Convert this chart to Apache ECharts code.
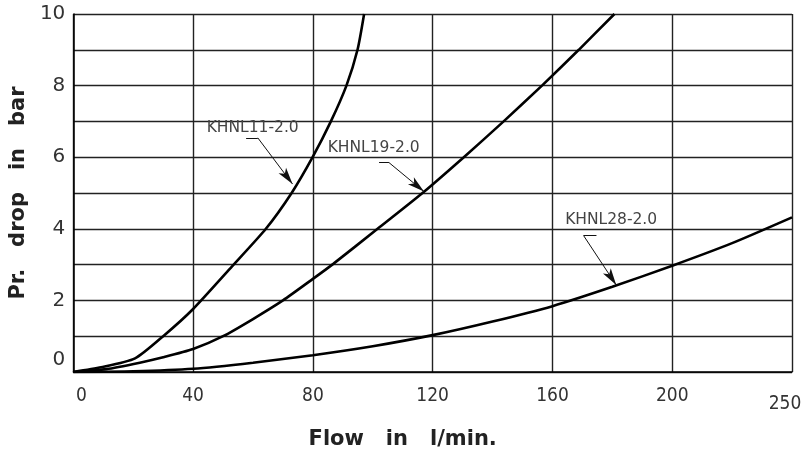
<!DOCTYPE html>
<html>
<head>
<meta charset="utf-8">
<script src="https://cdn.jsdelivr.net/npm/echarts@6/dist/echarts.min.js"></script>
<style>html,body{margin:0;padding:0;background:#fff}#c{width:805px;height:455px}</style>
</head>
<body>
<div id="c"></div>
<script>
// ---- data (flow in l/min, pressure drop in bar) ----
const xTickValues = [0, 40, 80, 120, 160, 200, 240];
const xTickLabels = ['0', '40', '80', '120', '160', '200', '250'];
const seriesNames = ['KHNL11-2.0', 'KHNL19-2.0', 'KHNL28-2.0'];
const khnl11 = [[0,0],[9.3,0.13],[20.6,0.38],[30,1.0],[40,1.76],[53,2.95],[64.3,4.0],[72.9,5.0],[79.9,6.0],[86,7.0],[91.2,8.0],[94.9,9.0],[97.1,10.0]];
const khnl19 = [[0,0],[11,0.08],[22.2,0.26],[30,0.41],[40,0.64],[50,1.0],[60,1.48],[70,2.0],[80,2.6],[86.8,3.02],[101.6,4.0],[116.6,5.0],[130.4,6.0],[143.7,7.0],[156.5,8.0],[168.8,9.0],[180.7,10.0]];
const khnl28 = [[0,0],[20,0.02],[40,0.09],[60,0.26],[80,0.47],[100,0.72],[120,1.03],[140,1.41],[160,1.84],[180,2.38],[200,2.97],[220,3.6],[240,4.32]];
// annotation anchors (data units): label centre, leader stub, arrow start, arrow tip
const labelPos = [[59.9,6.81],[100.3,6.25],[179.6,4.25]];
const stubStart = [[57.7,6.54],[102.1,5.85],[170.4,3.81]];
const stubEnd = [[61.6,6.54],[105.4,5.85],[174.7,3.81]];
const arrowStart = [[61.6,6.54],[105.4,5.85],[170.4,3.81]];
const arrowTip = [[73.2,5.25],[117.1,5.04],[181.3,2.43]];

const seriesData = [khnl11, khnl19, khnl28];
const chart = echarts.init(document.getElementById('c'), null, {renderer: 'canvas'});
const gridLine = {color: '#222', width: 1.4};

const series = seriesData.map((d, i) => ({
  name: seriesNames[i],
  type: 'line',
  data: d,
  smooth: 0.22,
  symbol: 'none',
  lineStyle: {color: '#000', width: 2.6},
  z: 3,
  markLine: {
    silent: true,
    animation: false,
    symbol: ['none', 'none'],
    lineStyle: {color: '#111', width: 1, type: 'solid'},
    label: {show: false},
    emphasis: {disabled: true},
    data: [
      [{coord: stubStart[i]}, {coord: stubEnd[i]}],
      [{coord: arrowStart[i]}, {coord: arrowTip[i], symbol: 'arrow', symbolSize: [7, 17]}]
    ]
  },
  markPoint: {
    silent: true,
    animation: false,
    symbol: 'circle',
    symbolSize: 1,
    itemStyle: {color: 'rgba(0,0,0,0)'},
    label: {show: true, position: 'inside', formatter: seriesNames[i], color: '#444', fontSize: 15.5, fontFamily: 'DejaVu Sans'},
    data: [{coord: labelPos[i]}]
  }
}));

const xLabelFont = {fontSize: 19, fontFamily: '"DejaVu Sans Condensed", "DejaVu Sans", sans-serif', color: '#333'};
const yLabelFont = {fontSize: 20, fontFamily: 'DejaVu Sans', color: '#333'};

chart.setOption({
  animation: false,
  backgroundColor: '#fff',
  grid: {left: 72, right: 13, top: 14, bottom: 83, containLabel: false},
  xAxis: {
    type: 'value', min: 0, max: 240, interval: 40,
    name: 'Flow   in   l/min.', nameLocation: 'middle', nameGap: 57,
    nameTextStyle: {fontSize: 21, fontWeight: 'bold', fontFamily: 'DejaVu Sans', color: '#222', padding: [0, 60, 0, 0]},
    axisLine: {show: true, lineStyle: {color: '#000', width: 1.5}},
    axisTick: {show: false},
    splitLine: {show: true, lineStyle: gridLine},
    axisLabel: {
      margin: 15,
      formatter: function (v) {
        const i = xTickValues.indexOf(v);
        const t = i >= 0 ? xTickLabels[i] : '';
        if (v === 0) return '{a|' + t + '}';
        if (v === 240) return '{b|' + t + '}';
        return '{n|' + t + '}';
      },
      rich: {
        n: Object.assign({}, xLabelFont),
        a: Object.assign({padding: [0, 0, 0, 16]}, xLabelFont),
        b: Object.assign({padding: [8, 14, 0, 0]}, xLabelFont)
      }
    }
  },
  yAxis: {
    type: 'value', min: 0, max: 10, interval: 2,
    name: 'Pr.   drop   in   bar', nameLocation: 'middle', nameGap: 42,
    nameTextStyle: {fontSize: 21, fontWeight: 'bold', fontFamily: 'DejaVu Sans', color: '#222'},
    axisLine: {show: true, lineStyle: {color: '#000', width: 1.5}},
    axisTick: {show: false},
    minorTick: {show: false, splitNumber: 2},
    splitLine: {show: true, lineStyle: gridLine},
    minorSplitLine: {show: true, lineStyle: gridLine},
    axisLabel: {
      margin: 8,
      formatter: function (v) {
        if (v === 0) return '{z|0}';
        return '{n|' + v + '}';
      },
      rich: {
        n: Object.assign({}, yLabelFont),
        z: Object.assign({padding: [0, 0, 24, 0]}, yLabelFont)
      }
    }
  },
  series: series
});
</script>
</body>
</html>
